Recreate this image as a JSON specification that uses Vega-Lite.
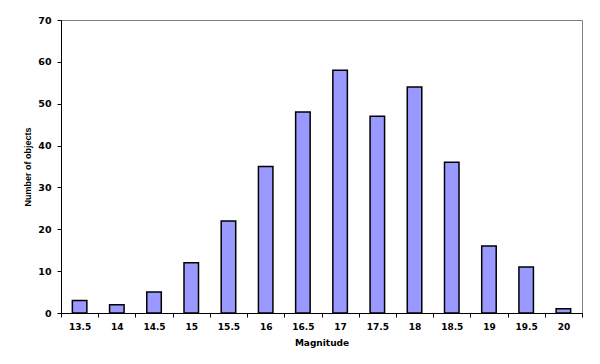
{
  "$schema": "https://vega.github.io/schema/vega-lite/v6.json",
  "width": 521,
  "height": 293,
  "autosize": "none",
  "padding": {"left": 61, "top": 20, "right": 18, "bottom": 51},
  "background": "white",
  "config": {
    "view": {"stroke": "#808080", "strokeWidth": 1},
    "font": "DejaVu Sans"
  },
  "data": {
    "values": [
      {"Magnitude": "13.5", "Count": 3},
      {"Magnitude": "14", "Count": 2},
      {"Magnitude": "14.5", "Count": 5},
      {"Magnitude": "15", "Count": 12},
      {"Magnitude": "15.5", "Count": 22},
      {"Magnitude": "16", "Count": 35},
      {"Magnitude": "16.5", "Count": 48},
      {"Magnitude": "17", "Count": 58},
      {"Magnitude": "17.5", "Count": 47},
      {"Magnitude": "18", "Count": 54},
      {"Magnitude": "18.5", "Count": 36},
      {"Magnitude": "19", "Count": 16},
      {"Magnitude": "19.5", "Count": 11},
      {"Magnitude": "20", "Count": 1}
    ]
  },
  "mark": {"type": "bar", "fill": "#9999FF", "stroke": "black", "strokeWidth": 1.5, "width": {"band": 0.39}},
  "encoding": {
    "x": {
      "field": "Magnitude",
      "type": "ordinal",
      "sort": null,
      "scale": {"paddingInner": 0, "paddingOuter": 0},
      "axis": {
        "title": "Magnitude",
        "labelAngle": 0,
        "tickBand": "extent",
        "tickSize": 4,
        "tickColor": "black",
        "domainColor": "black",
        "labelPadding": 5,
        "labelFont": "DejaVu Sans",
        "labelFontWeight": "bold",
        "labelFontSize": 9,
        "labelColor": "black",
        "titleFont": "DejaVu Sans",
        "titleFontWeight": "bold",
        "titleFontSize": 9,
        "titleColor": "black",
        "titleY": 29,
        "titleBaseline": "middle"
      }
    },
    "y": {
      "field": "Count",
      "type": "quantitative",
      "scale": {"domain": [0, 70]},
      "axis": {
        "title": "Number of objects",
        "values": [0, 10, 20, 30, 40, 50, 60, 70],
        "grid": false,
        "tickSize": 4,
        "tickColor": "black",
        "domainColor": "black",
        "labelPadding": 6,
        "labelFont": "DejaVu Sans",
        "labelFontWeight": "bold",
        "labelFontSize": 9.5,
        "labelColor": "black",
        "titleFont": "Liberation Sans",
        "titleFontWeight": "bold",
        "titleFontSize": 9,
        "titleColor": "black",
        "titleAngle": -90,
        "titleX": -34,
        "titleY": 146.5,
        "titleAlign": "center",
        "titleBaseline": "middle"
      }
    }
  }
}
